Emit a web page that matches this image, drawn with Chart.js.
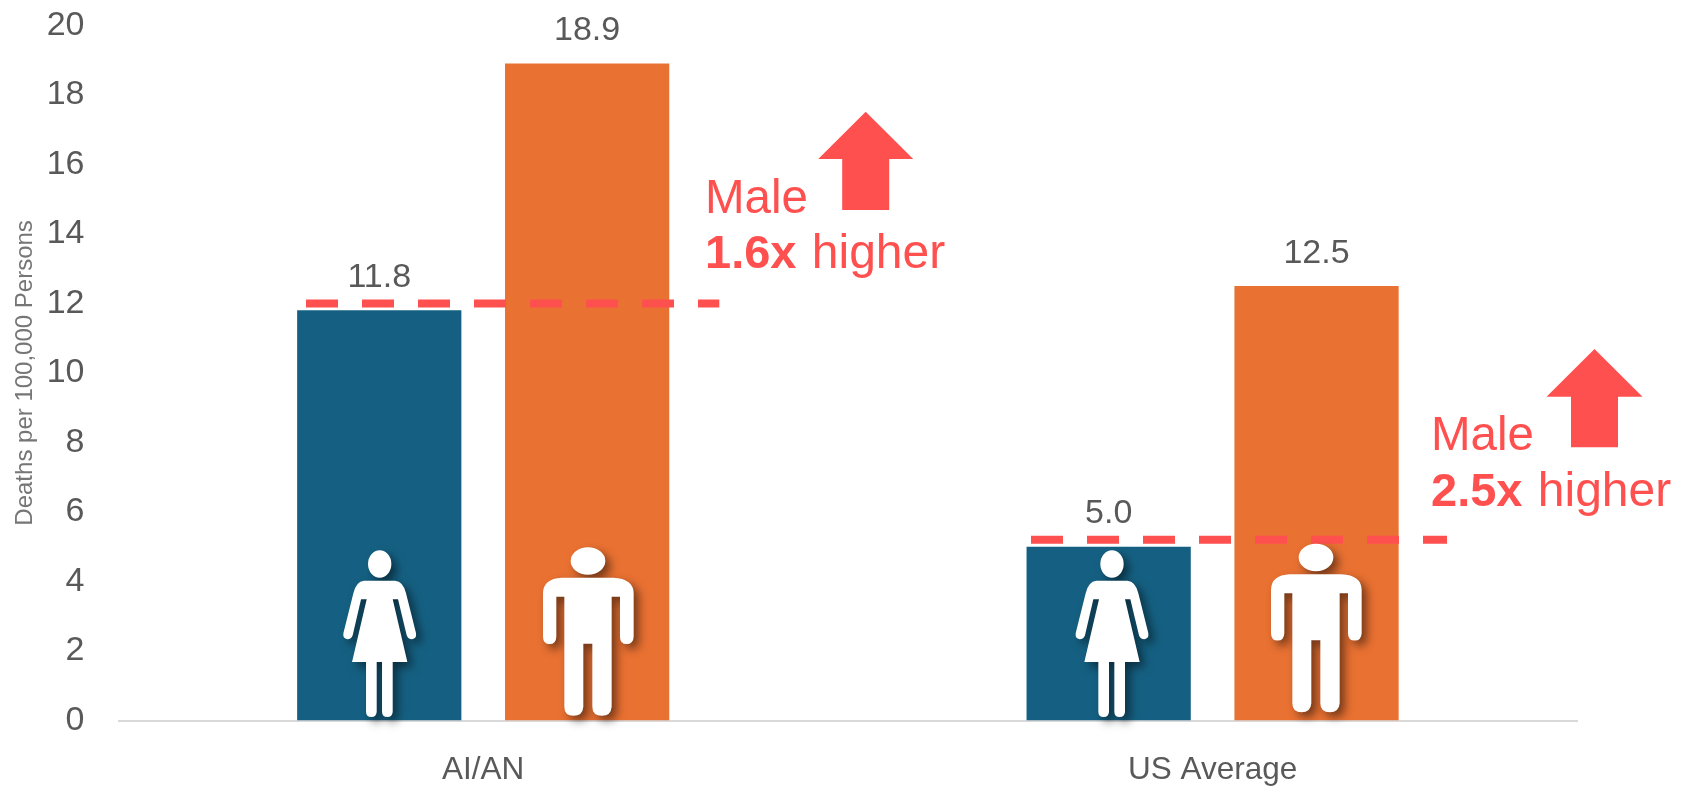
<!DOCTYPE html>
<html>
<head>
<meta charset="utf-8">
<style>
html,body{margin:0;padding:0;background:#fff;overflow:hidden}
canvas{display:block}
</style>
<script src="https://cdn.jsdelivr.net/npm/chart.js@4"></script>
</head>
<body>
<canvas id="c" width="1682" height="793"></canvas>
<script>
const categories = ["AI/AN", "US Average"];
const femaleRates = [11.8, 5.0];
const maleRates = [18.9, 12.5];
const femaleBaseline = [12.0, 5.2];
const maleMultipliers = ["1.6x", "2.5x"];
const yAxisTitle = "Deaths per 100,000 Persons";

const RED = "#FF5050", GREY = "#595959", FONT = '"Liberation Sans", Arial, sans-serif';

function womanPath(c) {
  c.moveTo(252,152); c.lineTo(345,152);
  c.quadraticCurveTo(370,154,378,190);
  c.lineTo(408,310);
  c.quadraticCurveTo(410,326,396,328);
  c.quadraticCurveTo(384,328,380,316);
  c.lineTo(354,208); c.lineTo(338,208);
  c.lineTo(382,396); c.lineTo(338,396);
  c.lineTo(338,545);
  c.quadraticCurveTo(337,561,322,561);
  c.quadraticCurveTo(306,561,306,545);
  c.lineTo(306,396); c.lineTo(290,396); c.lineTo(290,545);
  c.quadraticCurveTo(289,561,274,561);
  c.quadraticCurveTo(258,561,258,545);
  c.lineTo(258,396); c.lineTo(216,396); c.lineTo(260,208); c.lineTo(243,208);
  c.lineTo(218,316);
  c.quadraticCurveTo(214,328,202,328);
  c.quadraticCurveTo(188,326,190,310);
  c.lineTo(220,190);
  c.quadraticCurveTo(228,154,252,152);
  c.closePath();
  c.moveTo(334,102);
  c.ellipse(299,102,35,41,0,0,Math.PI*2);
  c.closePath();
}
function manPath(c) {
  c.moveTo(845,143); c.lineTo(1000,143);
  c.quadraticCurveTo(1061,146,1061,190);
  c.lineTo(1061,320);
  c.quadraticCurveTo(1060,342,1040,342);
  c.quadraticCurveTo(1020,342,1020,320);
  c.lineTo(1020,200); c.lineTo(995,200); c.lineTo(995,530);
  c.quadraticCurveTo(993,557,966,557);
  c.quadraticCurveTo(937,557,937,530);
  c.lineTo(937,341); c.lineTo(910,341); c.lineTo(910,530);
  c.quadraticCurveTo(908,557,881,557);
  c.quadraticCurveTo(853,557,853,530);
  c.lineTo(853,200); c.lineTo(829,200); c.lineTo(829,320);
  c.quadraticCurveTo(828,342,809,342);
  c.quadraticCurveTo(789,342,789,320);
  c.lineTo(789,190);
  c.quadraticCurveTo(789,146,845,143);
  c.closePath();
  c.moveTo(976,93);
  c.ellipse(924,93,52,41,0,0,Math.PI*2);
  c.closePath();
}

const dashExtents = [[306,719.3],[1031,1447]];
const arrows = [
  {tip:865.7, top:111.7, base:159, half:47.5, shaft:23.5, bottom:210},
  {tip:1594.5, top:349, base:396.7, half:48, shaft:23.5, bottom:447.3}
];
const notes = [{x:705,y1:212.7,y2:267.7},{x:1431,y1:450,y2:505.7}];
const figures = [
  {kind:"w", x:379.7, y:530, cx:299},
  {kind:"m", x:588, y:530, cx:924},
  {kind:"w", x:1112, y:530, cx:299},
  {kind:"m", x:1316, y:526.5, cx:924}
];

const overlay = {
  id:"overlay",
  afterDatasetsDraw(chart){
    const c = chart.ctx, ys = chart.scales.y;
    c.save();
    // value labels
    c.font = "34px "+FONT; c.fillStyle = GREY; c.textAlign="center"; c.textBaseline="alphabetic";
    chart.data.datasets.forEach((ds,di)=>{
      chart.getDatasetMeta(di).data.forEach((bar,i)=>{
        c.fillText(ds.data[i].toFixed(1), bar.x, bar.y-23.5);
      });
    });
    // dashed reference lines
    c.strokeStyle = RED; c.lineWidth = 8; c.setLineDash([32,24]);
    femaleBaseline.forEach((v,i)=>{
      const y = ys.getPixelForValue(v);
      c.beginPath(); c.moveTo(dashExtents[i][0],y); c.lineTo(dashExtents[i][1],y); c.stroke();
    });
    c.setLineDash([]);
    // figures
    figures.forEach(f=>{
      c.save();
      c.shadowColor="rgba(0,0,0,0.5)"; c.shadowBlur=10; c.shadowOffsetX=5; c.shadowOffsetY=5;
      c.translate(f.x,f.y); c.scale(1/3,1/3); c.translate(-f.cx,0);
      c.fillStyle="#fff"; c.beginPath();
      (f.kind==="w"?womanPath:manPath)(c);
      c.fill(); c.restore();
    });
    // arrows
    c.fillStyle = RED;
    arrows.forEach(a=>{
      c.beginPath();
      c.moveTo(a.tip,a.top); c.lineTo(a.tip+a.half,a.base); c.lineTo(a.tip+a.shaft,a.base);
      c.lineTo(a.tip+a.shaft,a.bottom); c.lineTo(a.tip-a.shaft,a.bottom); c.lineTo(a.tip-a.shaft,a.base);
      c.lineTo(a.tip-a.half,a.base); c.closePath(); c.fill();
    });
    // notes
    c.textAlign="left";
    notes.forEach((n,i)=>{
      c.font="47.5px "+FONT; c.fillText("Male",n.x,n.y1);
      c.font="bold 47px "+FONT; const t=maleMultipliers[i]; c.fillText(t,n.x,n.y2);
      const w=c.measureText(t).width;
      c.font="48px "+FONT; c.fillText(" higher",n.x+w+2,n.y2);
    });
    c.restore();
  }
};

new Chart(document.getElementById("c"),{
  type:"bar",
  data:{labels:categories,datasets:[
    {label:"Female",data:femaleRates,backgroundColor:"#156082",categoryPercentage:0.57,barPercentage:0.79},
    {label:"Male",data:maleRates,backgroundColor:"#E97132",categoryPercentage:0.57,barPercentage:0.79}
  ]},
  options:{
    responsive:false,animation:false,
    layout:{padding:{top:25.3,right:104.7,bottom:0,left:0}},
    plugins:{legend:{display:false},tooltip:{enabled:false}},
    scales:{
      x:{
        grid:{display:false,drawTicks:false},
        border:{color:"#D9D9D9",width:2},
        ticks:{color:GREY,font:{family:FONT,size:31.5},padding:31,maxRotation:0},
        afterFit(s){s.height=72.5;s.paddingLeft=0;s.paddingRight=0;}
      },
      y:{
        min:0,max:20,
        grid:{display:false,drawTicks:false},
        border:{display:false},
        ticks:{stepSize:2,color:GREY,font:{family:FONT,size:34},padding:34},
        title:{display:true,text:yAxisTitle,color:"#767676",font:{family:FONT,size:24},padding:{top:11,bottom:0}},
        afterFit(s){s.width=118.5;s.paddingTop=0;s.paddingBottom=0;}
      }
    }
  },
  plugins:[overlay]
});
</script>
</body>
</html>
